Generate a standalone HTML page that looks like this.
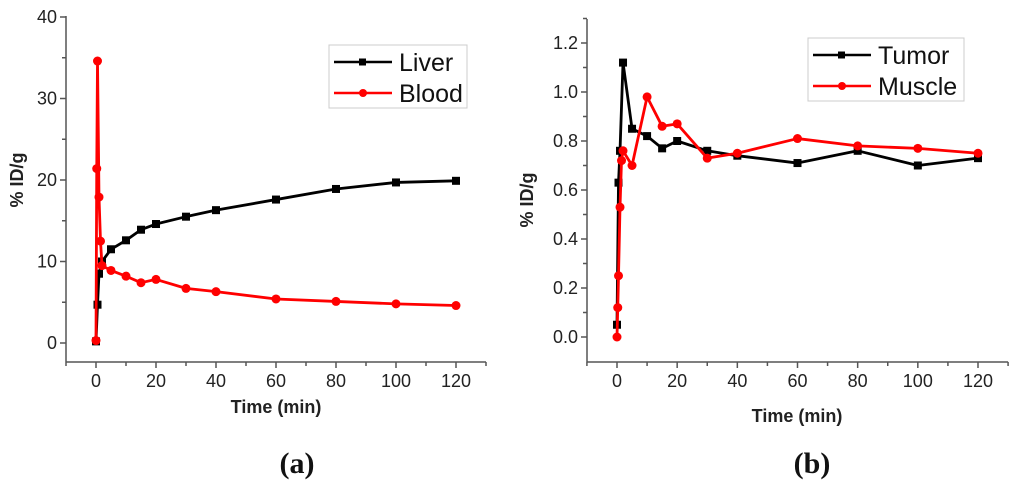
<!DOCTYPE html>
<html><head><meta charset="utf-8"><style>
body{margin:0;background:#fff;}
svg{display:block;font-family:"Liberation Sans",Arial,sans-serif;}
</style></head><body>
<svg id="s" width="1024" height="485" viewBox="0 0 1024 485"></svg>
<script>
const liverT=[0,0.5,1,2,5,10,15,20,30,40,60,80,100,120];
const liverV=[0.2,4.7,8.5,10,11.5,12.6,13.9,14.6,15.5,16.3,17.6,18.9,19.7,19.9];
const bloodT=[0,0.25,0.5,1,1.5,2,5,10,15,20,30,40,60,80,100,120];
const bloodV=[0.3,21.4,34.6,17.9,12.5,9.5,8.9,8.2,7.4,7.8,6.7,6.3,5.4,5.1,4.8,4.6];
const tumorT=[0,0.5,1,2,5,10,15,20,30,40,60,80,100,120];
const tumorV=[0.05,0.63,0.76,1.12,0.85,0.82,0.77,0.80,0.76,0.74,0.71,0.76,0.70,0.73];
const muscleT=[0,0.25,0.5,1,1.5,2,5,10,15,20,30,40,60,80,100,120];
const muscleV=[0.0,0.12,0.25,0.53,0.72,0.76,0.70,0.98,0.86,0.87,0.73,0.75,0.81,0.78,0.77,0.75];
const xTicks=[0,20,40,60,80,100,120];
const aYTicks=[0,10,20,30,40];
const bYTicks=[0.0,0.2,0.4,0.6,0.8,1.0,1.2];

const NS="http://www.w3.org/2000/svg";
const svg=document.getElementById('s');
function mk(tag,attrs,parent,text){const e=document.createElementNS(NS,tag);for(const k in attrs)e.setAttribute(k,attrs[k]);if(text!==undefined)e.textContent=text;(parent||svg).appendChild(e);return e;}

function panel(cfg){
  const g=mk('g',{});
  
  
  const X=v=>cfg.x0+(v-0)*(cfg.x120-cfg.x0)/120;
  const Y=v=>cfg.y0+(v-cfg.ymin)*(cfg.ytop-cfg.y0)/(cfg.ymaxT-cfg.ymin);
  const ax=mk('g',{stroke:'#555','stroke-width':1.5},g);
  
  
  mk('line',{x1:cfg.axL,y1:cfg.axT,x2:cfg.axL,y2:cfg.axB},ax);
  mk('line',{x1:cfg.axL,y1:cfg.axB,x2:X(130),y2:cfg.axB},ax);
  for(let v=-10;v<=130;v+=10){const x=X(v);mk('line',{x1:x,y1:cfg.axB,x2:x,y2:cfg.axB+(v%20===0?6:4)},ax);}
  xTicks.forEach(v=>{const t=mk('text',{x:X(v),y:cfg.axB+25,'text-anchor':'middle','font-size':18,fill:'#222'},g,String(v));
    });
  const yt=cfg.yTicks;
  const step=yt[1]-yt[0];
  for(let i=0;i<yt.length;i++){
    const y=Y(yt[i]);mk('line',{x1:cfg.axL-6,y1:y,x2:cfg.axL,y2:y},ax);
    const ym=Y(yt[i]+step/2);if(i<yt.length-1||cfg.extraMinor)mk('line',{x1:cfg.axL-4,y1:ym,x2:cfg.axL,y2:ym},ax);
    const t=mk('text',{x:cfg.axL-9,y:y+6,'text-anchor':'end','font-size':18,fill:'#222'},g,cfg.fmt(yt[i]));
    
  }
  const xt=mk('text',{x:cfg.xtX,y:cfg.xtY,'text-anchor':'middle','font-size':18,'font-weight':'bold',fill:'#222'},g,'Time (min)');
  
  const ytt=mk('text',{x:0,y:0,'text-anchor':'middle','font-size':18,'font-weight':'bold',fill:'#222',transform:`translate(${cfg.ytX},${cfg.ytY}) rotate(-90)`},g,'% ID/g');
  
  const pl=mk('text',{x:cfg.plX,y:473,'text-anchor':'middle','font-size':30,'font-weight':'bold','font-family':'"Liberation Serif",serif',fill:'#111'},g,cfg.label);
  
  cfg.series.forEach(s=>{
    const sg=mk('g',{},g);
    
    
    const pts=s.t.map((t,i)=>X(t)+','+Y(s.v[i])).join(' ');
    mk('polyline',{points:pts,fill:'none',stroke:s.c,'stroke-width':2.8,'stroke-linejoin':'round'},sg);
    s.t.forEach((t,i)=>{let m;
      if(s.sq){m=mk('rect',{x:X(t)-4,y:Y(s.v[i])-4,width:8,height:8,fill:s.c},sg);}
      else{m=mk('circle',{cx:X(t),cy:Y(s.v[i]),r:4.5,fill:s.c},sg);}
      });
  });
  const L=cfg.leg;
  const lg=mk('g',{},g);
  
  mk('rect',{x:L.x,y:L.y,width:L.w,height:L.h,fill:'#fff',stroke:'#ccc','stroke-width':1},lg);
  cfg.series.forEach((s,i)=>{
    const y=L.y+17+i*31;
    const e=mk('g',{},lg);
    
    mk('line',{x1:L.x+5,y1:y,x2:L.x+63,y2:y,stroke:s.c,'stroke-width':2.5},e);
    if(s.sq)mk('rect',{x:L.x+30,y:y-3.5,width:7,height:7,fill:s.c},e);else mk('circle',{cx:L.x+34,cy:y,r:4,fill:s.c},e);
    mk('text',{x:L.x+70,y:y+9,'font-size':25,fill:'#111'},e,s.n);
  });
}
panel({name:'chart-a',x0:96,x120:456,y0:343,ymin:0,ytop:17,ymaxT:40,axL:66,axT:16,axB:362,yTicks:aYTicks,fmt:v=>String(v),
  xtX:276,xtY:413,ytX:23,ytY:180,plX:297,label:'(a)',leg:{x:329,y:45,w:138,h:63},
  series:[{n:'Liver',t:liverT,v:liverV,c:'#000',sq:true},{n:'Blood',t:bloodT,v:bloodV,c:'#f00'}]});
panel({name:'chart-b',x0:617,x120:978,y0:337,ymin:0,ytop:43,ymaxT:1.2,axL:587,axT:19,axB:362,yTicks:bYTicks,fmt:v=>v.toFixed(1),extraMinor:true,
  xtX:797,xtY:422,ytX:533,ytY:200,plX:812,label:'(b)',leg:{x:808,y:38,w:156,h:63},
  series:[{n:'Tumor',t:tumorT,v:tumorV,c:'#000',sq:true},{n:'Muscle',t:muscleT,v:muscleV,c:'#f00'}]});
</script>
</body></html>
